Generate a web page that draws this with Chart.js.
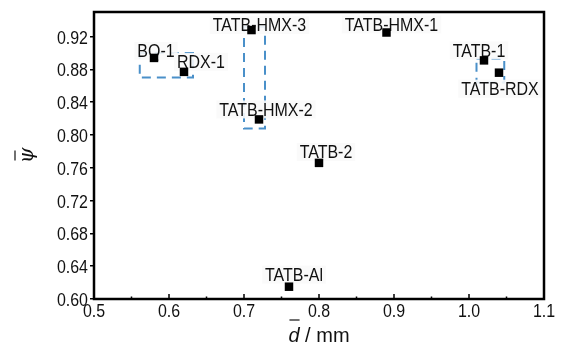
<!DOCTYPE html>
<html>
<head>
<meta charset="utf-8">
<script src="https://cdn.jsdelivr.net/npm/chart.js@4/dist/chart.umd.min.js"></script>
<style>
  html, body { margin: 0; padding: 0; background: #fff; }
  #wrap { width: 562px; height: 345px; }
</style>
</head>
<body>
<div id="wrap"><canvas id="chart" width="562" height="345"></canvas></div>
<script>
// Samples and their mean particle size / psi values
const names = ['BQ-1', 'RDX-1', 'TATB-HMX-3', 'TATB-HMX-2', 'TATB-2', 'TATB-HMX-1', 'TATB-1', 'TATB-RDX', 'TATB-Al'];
const dVals = [0.58, 0.62, 0.71, 0.72, 0.80, 0.89, 1.02, 1.04, 0.76];
const psiVals = [0.894, 0.877, 0.928, 0.819, 0.766, 0.925, 0.891, 0.876, 0.615];

// Tick labels
const xTicks = [0.5, 0.6, 0.7, 0.8, 0.9, 1.0, 1.1];
const yTicks = [0.60, 0.64, 0.68, 0.72, 0.76, 0.80, 0.84, 0.88, 0.92];

// Dashed group boxes: [dMin, dMax, psiMin, psiMax]
const groupBoxes = [
    [0.561, 0.632, 0.870, 0.900],
    [0.700, 0.728, 0.808, 0.932],
    [1.010, 1.047, 0.864, 0.893]
];

// Label offsets from the marker, in pixels
const labelOffsets = [[2, -7], [17, -10], [8, -5], [7, -10], [7, -11], [5, -8], [-5, -10], [1, 16], [5, -12]];

const FONT = '"Liberation Sans", Arial, sans-serif';
const SQUEEZE = 0.84; // the figure uses a condensed face

// draw horizontally condensed text; align = 'left' | 'center' | 'right'
function narrowText(ctx, text, x, y, align) {
    const w = ctx.measureText(text).width * SQUEEZE;
    let left = x;
    if (align === 'center') left = x - w / 2;
    if (align === 'right') left = x - w;
    ctx.save();
    ctx.textAlign = 'left';
    ctx.translate(left, y);
    ctx.scale(SQUEEZE, 1);
    ctx.fillText(text, 0, 0);
    ctx.restore();
    return w;
}

const decorations = {
    id: 'decorations',
    beforeDatasetsDraw(chart) {
        const ctx = chart.ctx;
        const x = chart.scales.x, y = chart.scales.y;
        // Group boxes
        ctx.save();
        ctx.strokeStyle = '#4a90c9';
        ctx.lineWidth = 2;
        ctx.setLineDash([9, 6]);
        groupBoxes.forEach(function(b) {
            const x0 = x.getPixelForValue(b[0]), x1 = x.getPixelForValue(b[1]);
            const y0 = y.getPixelForValue(b[3]), y1 = y.getPixelForValue(b[2]);
            ctx.strokeRect(x0, y0, x1 - x0, y1 - y0);
        });
        ctx.restore();

        // Point labels
        ctx.save();
        ctx.font = '19px ' + FONT;
        ctx.textBaseline = 'middle';
        names.forEach(function(n, i) {
            const px = x.getPixelForValue(dVals[i]) + labelOffsets[i][0];
            const py = y.getPixelForValue(psiVals[i]) + labelOffsets[i][1];
            const w = ctx.measureText(n).width * SQUEEZE;
            ctx.fillStyle = 'rgba(250,250,250,0.9)';
            ctx.fillRect(px - w / 2 - 3, py - 9, w + 6, 18);
            ctx.fillStyle = '#111';
            narrowText(ctx, n, px, py + 1, 'center');
        });
        ctx.restore();
    },
    afterDraw(chart) {
        const ctx = chart.ctx;
        const a = chart.chartArea;
        const x = chart.scales.x, y = chart.scales.y;
        ctx.save();
        // Frame
        ctx.strokeStyle = '#000';
        ctx.lineWidth = 2.5;
        ctx.strokeRect(a.left, a.top, a.right - a.left, a.bottom - a.top);

        // Inward x ticks, major and minor
        ctx.lineWidth = 1.5;
        ctx.beginPath();
        for (let v = 0.5; v <= 1.1001; v += 0.05) {
            const px = x.getPixelForValue(v);
            const major = Math.abs(v * 10 - Math.round(v * 10)) < 0.01;
            ctx.moveTo(px, a.bottom);
            ctx.lineTo(px, a.bottom - (major ? 5 : 2.5));
        }
        ctx.stroke();

        // Tick labels
        ctx.fillStyle = '#111';
        ctx.font = '19px ' + FONT;
        ctx.textBaseline = 'alphabetic';
        xTicks.forEach(function(v) {
            narrowText(ctx, v.toFixed(1), x.getPixelForValue(v), a.bottom + 18, 'center');
        });
        yTicks.forEach(function(v) {
            narrowText(ctx, v.toFixed(2), a.left - 6, y.getPixelForValue(v) + 7, 'right');
        });

        // X title: d-bar / mm
        ctx.font = 'italic 20px ' + FONT;
        const dW = ctx.measureText('d').width;
        ctx.font = '20px ' + FONT;
        const restW = ctx.measureText(' / mm').width;
        const cx = (a.left + a.right) / 2;
        const tx = cx - (dW + restW) / 2;
        const ty = 342;
        ctx.textAlign = 'left';
        ctx.font = 'italic 20px ' + FONT;
        ctx.fillText('d', tx, ty);
        ctx.font = '20px ' + FONT;
        ctx.fillText(' / mm', tx + dW, ty);
        ctx.strokeStyle = '#111';
        ctx.lineWidth = 1.2;
        ctx.beginPath();
        ctx.moveTo(tx + 1, 320);
        ctx.lineTo(tx + dW, 320);
        ctx.stroke();

        // Y title: psi-bar, rotated
        ctx.translate(28, (a.top + a.bottom) / 2);
        ctx.rotate(-Math.PI / 2);
        ctx.font = 'italic 20px "DejaVu Serif", serif';
        ctx.textAlign = 'center';
        ctx.fillText('\u03C8', 0, 5);
        ctx.beginPath();
        ctx.moveTo(-5, -13);
        ctx.lineTo(5, -13);
        ctx.stroke();
        ctx.restore();
    }
};

new Chart(document.getElementById('chart'), {
    type: 'scatter',
    data: {
        datasets: [{
            data: dVals.map(function(d, i) { return { x: d, y: psiVals[i] }; }),
            pointStyle: 'rect',
            pointRadius: 6,
            pointHoverRadius: 6,
            backgroundColor: '#000',
            borderColor: '#000',
            borderWidth: 0
        }]
    },
    options: {
        responsive: false,
        animation: false,
        devicePixelRatio: 1,
        layout: { padding: { top: 12, right: 18, left: 0, bottom: 0 } },
        plugins: { legend: { display: false }, tooltip: { enabled: false } },
        scales: {
            x: {
                type: 'linear',
                min: 0.5,
                max: 1.1,
                afterBuildTicks: function(s) { s.ticks = xTicks.map(function(v) { return { value: v }; }); },
                afterFit: function(s) { s.height = 46; },
                grid: { display: false, drawTicks: false },
                border: { display: false },
                ticks: { display: false }
            },
            y: {
                min: 0.6,
                max: 0.95,
                afterBuildTicks: function(s) { s.ticks = yTicks.map(function(v) { return { value: v }; }); },
                afterFit: function(s) { s.width = 94; },
                grid: { display: true, drawOnChartArea: false, drawTicks: true, tickLength: 4, color: '#000', lineWidth: 1.5 },
                border: { display: false },
                ticks: { display: false }
            }
        }
    },
    plugins: [decorations]
});
</script>
</body>
</html>
